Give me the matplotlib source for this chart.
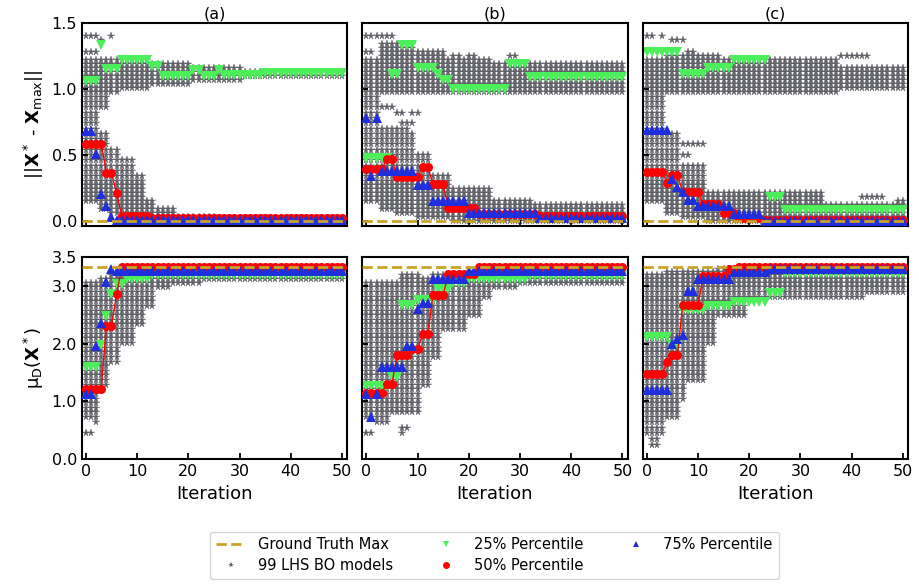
import numpy as np
import matplotlib
matplotlib.use("Agg")
import matplotlib.pyplot as plt
from matplotlib.lines import Line2D

iters = np.arange(51)
panel_titles = ["(a)", "(b)", "(c)"]
gt_top = 0.0
gt_bot = 3.32

# percentile curves, top row: ||X* - Xmax||
p25_a_top = [1.06]*3 + [1.33] + [1.15]*3 + [1.22]*6 + [1.17]*2 + [1.10]*6 + [1.14]*2 + [1.10]*3 + [1.145] + [1.107]*8 + [1.12]*16
p50_a_top = [0.585]*4 + [0.364]*2 + [0.21] + [0.04]*6 + [0.02]*38
p75_a_top = [0.68]*2 + [0.51] + [0.206] + [0.11] + [0.03] + [0.01]*45

p25_b_top = [0.476]*5 + [1.11]*2 + [1.33]*3 + [1.16]*4 + [1.11] + [1.07]*2 + [1.0]*11 + [1.19]*4 + [1.09]*19
p50_b_top = [0.39]*4 + [0.47]*2 + [0.33]*5 + [0.41]*2 + [0.28]*3 + [0.10]*6 + [0.056]*12 + [0.04]*17
p75_b_top = [0.78, 0.34, 0.78] + [0.38]*7 + [0.27]*3 + [0.15]*7 + [0.06]*14 + [0.02]*17

p25_c_top = [1.278]*7 + [1.115]*5 + [1.16]*5 + [1.217]*7 + [0.18]*3 + [0.087]*24
p50_c_top = [0.372]*4 + [0.29] + [0.35]*2 + [0.22]*4 + [0.125]*4 + [0.06]*3 + [0.02]*5 + [0.01]*28
p75_c_top = [0.686]*5 + [0.316, 0.26, 0.22] + [0.16]*2 + [0.11]*7 + [0.05]*6 + [0.0]*28

# percentile curves, bottom row: mu_D(X*)
p25_a_bot = [1.6]*3 + [1.97, 2.47, 2.86] + [3.02]*2 + [3.12]*5 + [3.19]*38
p50_a_bot = [1.22]*4 + [2.31]*2 + [2.85] + [3.33]*44
p75_a_bot = [1.13]*2 + [1.95, 2.35, 3.07, 3.28] + [3.26]*45

p25_b_bot = [1.26]*5 + [1.43]*2 + [2.66]*3 + [2.75]*4 + [2.95]*3 + [3.05]*3 + [3.12]*12 + [3.17]*19
p50_b_bot = [1.15]*4 + [1.30]*2 + [1.81]*3 + [1.91]*2 + [2.16]*2 + [2.83]*3 + [3.2]*6 + [3.33]*29
p75_b_bot = [1.13, 0.73, 1.13] + [1.6]*5 + [1.95]*2 + [2.6] + [2.7]*2 + [3.11]*7 + [3.26]*31

p25_c_bot = [2.11]*5 + [1.98]*2 + [2.58]*5 + [2.65]*5 + [2.72]*7 + [2.88]*3 + [3.22]*24
p50_c_bot = [1.47]*4 + [1.69] + [1.81]*2 + [2.66]*4 + [3.16]*5 + [3.28]*2 + [3.33]*33
p75_c_bot = [1.2]*5 + [2.0, 2.07, 2.15] + [2.9]*2 + [3.12]*7 + [3.24]*7 + [3.29]*27

# star levels the 99 models sit on
levels_top = [0.00, 0.03, 0.06, 0.09, 0.12, 0.15, 0.18, 0.21, 0.24, 0.27, 0.30, 0.34, 0.38,
              0.42, 0.46, 0.50, 0.54, 0.58, 0.62, 0.66, 0.70, 0.74, 0.78, 0.82, 0.86, 0.90,
              0.94, 0.98, 1.01, 1.04, 1.07, 1.10, 1.13, 1.16, 1.19, 1.22, 1.25, 1.28, 1.31, 1.34]
levels_bot = [0.25, 0.35, 0.45, 0.55, 0.65, 0.73, 0.81, 0.89, 0.97, 1.05, 1.13, 1.21, 1.29,
              1.37, 1.45, 1.53, 1.61, 1.69, 1.77, 1.85, 1.93, 2.01, 2.09, 2.17, 2.25, 2.33,
              2.41, 2.49, 2.57, 2.65, 2.73, 2.81, 2.89, 2.97, 3.05, 3.12, 3.18, 3.24, 3.29]

# star bands: (first iter, last iter, low, high)
stars_a_top = [(0, 2, 0.15, 1.22), (3, 4, 0.09, 0.66), (3, 4, 0.86, 1.22), (5, 6, 0.06, 0.54),
               (5, 6, 0.98, 1.22), (7, 9, 0.03, 0.46), (7, 12, 1.01, 1.22), (10, 11, 0.0, 0.34),
               (12, 13, 0.0, 0.15), (13, 20, 1.04, 1.19), (14, 17, 0.0, 0.09), (18, 25, 0.0, 0.03),
               (21, 30, 1.07, 1.16), (26, 50, 0.0, 0.0), (31, 50, 1.10, 1.13)]
extra_a_top = [(0, 1.40), (1, 1.40), (2, 1.40), (3, 1.37), (5, 1.40), (0, 1.28), (1, 1.28), (2, 1.28)]

stars_b_top = [(0, 2, 0.15, 1.22), (3, 5, 0.09, 0.70), (3, 9, 0.98, 1.34), (6, 9, 0.06, 0.66),
               (10, 12, 0.03, 0.50), (10, 15, 0.98, 1.28), (16, 24, 0.98, 1.22), (13, 16, 0.03, 0.34),
               (17, 24, 0.0, 0.24), (25, 32, 0.0, 0.15), (25, 50, 0.98, 1.19), (33, 50, 0.0, 0.12)]
extra_b_top = [(0, 1.40), (1, 1.40), (2, 1.40), (3, 1.40), (4, 1.40), (5, 1.40), (0, 1.28), (1, 1.28),
               (3, 0.86), (4, 0.86), (5, 0.86), (6, 0.82), (7, 0.82), (9, 0.82), (10, 0.82),
               (7, 0.74), (8, 0.74), (9, 0.74), (6, 0.70), (7, 0.70), (8, 0.70),
               (17, 1.25), (18, 1.25), (20, 1.25), (21, 1.25), (28, 1.25), (29, 1.25)]

stars_c_top = [(0, 3, 0.15, 0.66), (0, 3, 0.70, 0.86), (0, 3, 0.90, 1.22), (4, 6, 0.06, 0.66),
               (4, 14, 0.98, 1.25), (7, 11, 0.03, 0.42), (12, 14, 0.0, 0.21), (15, 37, 0.98, 1.22),
               (15, 34, 0.0, 0.21), (35, 50, 0.0, 0.12), (38, 50, 1.01, 1.16)]
extra_c_top = [(0, 1.40), (1, 1.40), (3, 1.40), (5, 1.37), (6, 1.37), (7, 1.37), (8, 1.28), (9, 1.28),
               (38, 1.25), (39, 1.25), (40, 1.25), (41, 1.25), (42, 1.25), (43, 1.25),
               (7, 0.58), (8, 0.58), (9, 0.58), (10, 0.58), (11, 0.58), (7, 0.50), (8, 0.50),
               (42, 0.18), (43, 0.18), (44, 0.18), (45, 0.18), (46, 0.18), (49, 0.15), (50, 0.15)]

stars_a_bot = [(0, 1, 0.73, 3.05), (2, 2, 0.65, 3.05), (3, 4, 1.29, 3.12), (5, 6, 1.69, 3.18),
               (7, 9, 2.01, 3.24), (10, 11, 2.33, 3.24), (12, 13, 2.65, 3.24), (14, 16, 2.97, 3.24),
               (17, 22, 3.05, 3.24), (23, 50, 3.12, 3.24)]
extra_a_bot = [(0, 0.45), (1, 0.45)]

stars_b_bot = [(0, 1, 0.73, 3.05), (2, 4, 0.65, 3.05), (5, 6, 0.81, 3.05), (7, 10, 0.81, 3.18),
               (11, 12, 1.29, 3.12), (13, 14, 1.77, 3.18), (15, 19, 2.25, 3.18), (20, 22, 2.49, 3.24),
               (23, 24, 2.81, 3.24), (25, 29, 2.97, 3.24), (30, 50, 3.05, 3.24)]
extra_b_bot = [(0, 0.45), (1, 0.45), (7, 0.45), (7, 0.55), (8, 0.55)]

stars_c_bot = [(0, 3, 0.45, 3.18), (4, 6, 0.73, 3.24), (7, 7, 1.05, 3.24), (8, 11, 1.37, 3.24),
               (12, 13, 2.01, 3.24), (14, 19, 2.49, 3.29), (20, 42, 2.81, 3.29), (43, 50, 2.89, 3.29)]
extra_c_bot = [(1, 0.25), (2, 0.25), (1, 0.35), (2, 0.35)]

top_panels = [(stars_a_top, extra_a_top, p25_a_top, p50_a_top, p75_a_top),
              (stars_b_top, extra_b_top, p25_b_top, p50_b_top, p75_b_top),
              (stars_c_top, extra_c_top, p25_c_top, p50_c_top, p75_c_top)]
bot_panels = [(stars_a_bot, extra_a_bot, p25_a_bot, p50_a_bot, p75_a_bot),
              (stars_b_bot, extra_b_bot, p25_b_bot, p50_b_bot, p75_b_bot),
              (stars_c_bot, extra_c_bot, p25_c_bot, p50_c_bot, p75_c_bot)]

c_star = "#5f5f67"
c25 = "#4cef5a"
c50 = "#ff0000"
c75 = "#1f2fdc"
c_gt = "#c9a227"


def star_points(bands, extra, levels):
    xs, ys = [], []
    for i0, i1, lo, hi in bands:
        vals = [v for v in levels if lo - 1e-9 <= v <= hi + 1e-9]
        for it in range(i0, i1 + 1):
            xs += [it] * len(vals)
            ys += vals
    for it, v in extra:
        xs.append(it)
        ys.append(v)
    return xs, ys


fig, axes = plt.subplots(2, 3, figsize=(9.19, 5.86), dpi=100, sharex=True, sharey="row")
fig.subplots_adjust(left=0.089, right=0.988, top=0.961, bottom=0.216, wspace=0.057, hspace=0.153)

for row, (panels, levels, gt) in enumerate([(top_panels, levels_top, gt_top),
                                            (bot_panels, levels_bot, gt_bot)]):
    for col, (bands, extra, p25, p50, p75) in enumerate(panels):
        ax = axes[row, col]
        xs, ys = star_points(bands, extra, levels)
        ax.plot(xs, ys, ls="none", marker="*", ms=5.5, color=c_star, mew=0.3, zorder=1)
        ax.plot(iters, p25, ls="none", marker="v", ms=6.5, color=c25, mew=0, zorder=2)
        ax.plot(iters, p50, ls="-", lw=1, marker="o", ms=6.5, color=c50, mew=0, zorder=3)
        ax.plot(iters, p75, ls="none", marker="^", ms=6.5, color=c75, mew=0, zorder=4)
        ax.axhline(gt, color=c_gt, ls="--", lw=2, zorder=5)
        ax.set_xlim(-0.8, 51)
        ax.set_xticks([0, 10, 20, 30, 40, 50])
        ax.tick_params(direction="in", length=4, width=1.3, labelsize=11.5)
        for s in ax.spines.values():
            s.set_linewidth(1.5)
        if row == 0:
            ax.set_title(panel_titles[col], fontsize=11.5, pad=3)
        else:
            ax.set_xlabel("Iteration", fontsize=13)

axes[0, 0].set_ylim(-0.035, 1.5)
axes[0, 0].set_yticks([0.0, 0.5, 1.0, 1.5])
axes[0, 0].set_yticklabels(["0.0", "0.5", "1.0", "1.5"])
axes[1, 0].set_ylim(0, 3.5)
axes[1, 0].set_yticks([0.0, 1.0, 2.0, 3.0, 3.5])
axes[1, 0].set_yticklabels(["0.0", "1.0", "2.0", "3.0", "3.5"])
axes[0, 0].set_ylabel(r"$||\mathbf{X}^*$ - $\mathbf{X}_{\mathrm{max}}$||", fontsize=13)
axes[1, 0].set_ylabel(r"μ$_\mathrm{D}$($\mathbf{X}^*$)", fontsize=13)

handles = [Line2D([], [], color=c_gt, ls="--", lw=2),
           Line2D([], [], ls="none", marker="*", ms=4, color=c_star, mew=0),
           Line2D([], [], ls="none", marker="v", ms=5, color=c25, mew=0),
           Line2D([], [], ls="none", marker="o", ms=5, color=c50, mew=0),
           Line2D([], [], ls="none", marker="^", ms=5, color=c75, mew=0)]
labels = ["Ground Truth Max", "99 LHS BO models", "25% Percentile", "50% Percentile", "75% Percentile"]
fig.legend(handles, labels, loc="upper center", bbox_to_anchor=(0.538, 0.093), ncol=3,
           fontsize=10.5, columnspacing=2.6, handletextpad=0.9, borderaxespad=0,
           labelspacing=0.4)

fig.savefig("out.png", dpi=100)
